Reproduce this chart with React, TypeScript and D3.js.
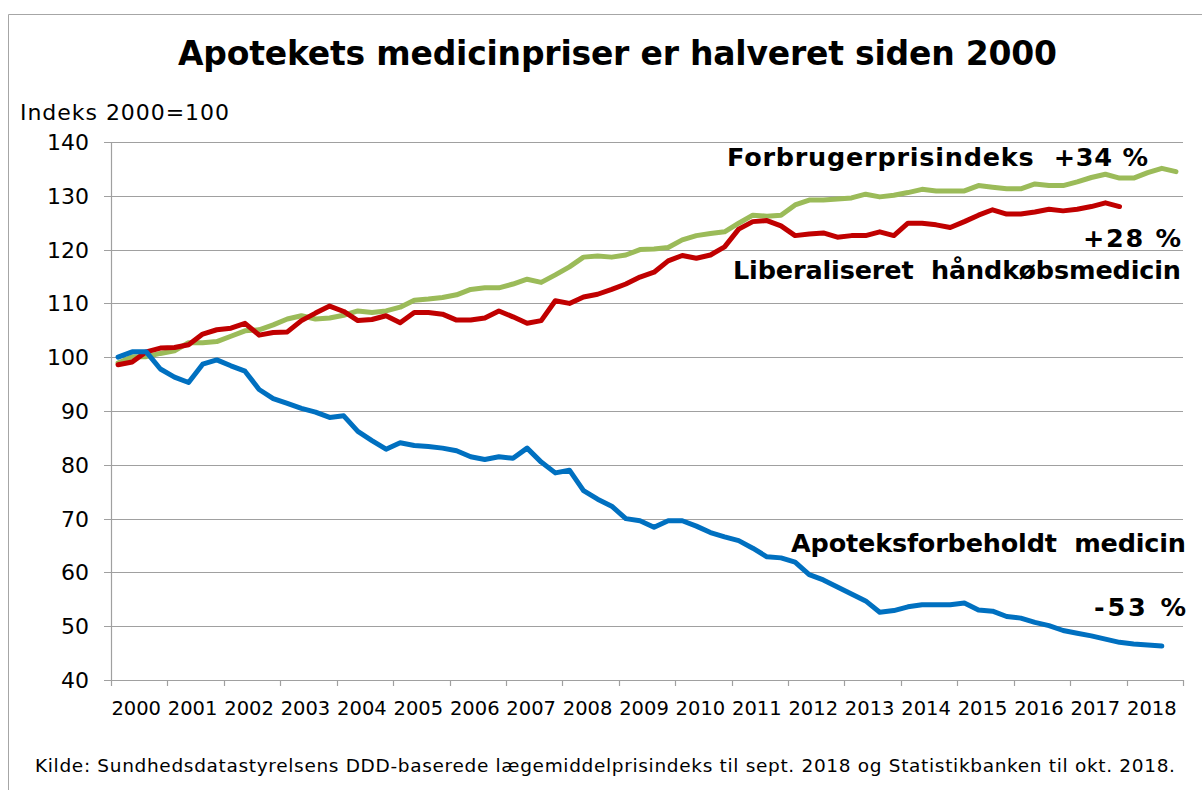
import React, { useEffect, useRef } from 'react'
import { select, scaleLinear, scaleBand, line, range } from 'd3'

// quarterly index values, 2000 Q1 onward (2000 = 100)
const years = range(2000, 2019).map(String)
const quarters = years.flatMap(y => ['K1', 'K2', 'K3', 'K4'].map(q => `${y}${q}`))

const apoteksforbeholdt = [
  100.0, 101.0, 101.0, 97.8, 96.3, 95.3, 98.7, 99.5, 98.4, 97.4,
  94.0, 92.3, 91.4, 90.5, 89.8, 88.8, 89.1, 86.2, 84.5, 82.9,
  84.1, 83.6, 83.4, 83.1, 82.6, 81.5, 81.0, 81.5, 81.2, 83.1,
  80.5, 78.5, 79.0, 75.2, 73.6, 72.3, 70.0, 69.6, 68.4, 69.6,
  69.6, 68.6, 67.4, 66.6, 65.9, 64.5, 62.9, 62.7, 61.9, 59.6,
  58.6, 57.3, 56.0, 54.7, 52.6, 52.9, 53.6, 54.0, 54.0, 54.0,
  54.3, 53.0, 52.8, 51.8, 51.5, 50.7, 50.1, 49.2, 48.7, 48.2,
  47.6, 47.0, 46.7, 46.5, 46.3
]

const haandkoeb = [
  98.6, 99.1, 101.0, 101.7, 101.8, 102.3, 104.3, 105.1, 105.4, 106.3,
  104.1, 104.6, 104.7, 106.8, 108.2, 109.5, 108.5, 106.8, 107.0, 107.7,
  106.4, 108.3, 108.3, 108.0, 106.9, 106.9, 107.3, 108.6, 107.5, 106.3,
  106.8, 110.5, 110.0, 111.2, 111.7, 112.6, 113.6, 114.9, 115.8, 117.9,
  118.9, 118.4, 119.0, 120.5, 123.8, 125.2, 125.4, 124.4, 122.6, 122.9,
  123.1, 122.3, 122.6, 122.6, 123.3, 122.6, 124.9, 124.9, 124.6, 124.1,
  125.2, 126.4, 127.4, 126.6, 126.6, 127.0, 127.5, 127.2, 127.5, 128.0,
  128.7, 128.0
]

const forbrugerpris = [
  98.9, 100.1, 100.1, 100.7, 101.2, 102.7, 102.7, 102.9, 103.9, 104.9,
  105.1, 106.0, 107.1, 107.7, 107.1, 107.3, 107.8, 108.6, 108.3, 108.6,
  109.3, 110.6, 110.8, 111.1, 111.6, 112.6, 112.9, 112.9, 113.6, 114.5,
  113.9, 115.3, 116.8, 118.6, 118.8, 118.6, 119.0, 120.0, 120.1, 120.4,
  121.8, 122.6, 123.0, 123.3, 124.9, 126.4, 126.2, 126.4, 128.3, 129.2,
  129.2, 129.4, 129.6, 130.3, 129.8, 130.1, 130.6, 131.2, 130.9, 130.9,
  130.9, 131.9, 131.6, 131.3, 131.3, 132.2, 131.9, 131.9, 132.6, 133.4,
  134.0, 133.3, 133.3, 134.3, 135.1, 134.5
]

const yTicks = [40, 50, 60, 70, 80, 90, 100, 110, 120, 130, 140]

const series = [
  { key: 'forbrug', values: forbrugerpris, color: '#9BBB59' },
  { key: 'haandkoeb', values: haandkoeb, color: '#C00000' },
  { key: 'apotek', values: apoteksforbeholdt, color: '#0070C0' },
]

const font = '"DejaVu Sans", Verdana, sans-serif'

export default function App() {
  const ref = useRef<SVGSVGElement | null>(null)

  useEffect(() => {
    const svg = select(ref.current)
    svg.selectAll('*').remove()

    const left = 111, right = 1183, top = 142, bottom = 680

    const x = scaleBand<string>().domain(quarters).range([left, right]).padding(0)
    const xYear = scaleBand<string>().domain(years).range([left, right]).padding(0)
    const y = scaleLinear().domain([40, 140]).range([bottom, top])

    // frame
    svg.append('path')
      .attr('d', `M8.5,790 V14.5 H1202`)
      .attr('fill', 'none')
      .attr('stroke', '#a6a6a6')
      .attr('stroke-width', 1)

    // gridlines + y ticks
    svg.append('g').selectAll('line').data(yTicks).join('line')
      .attr('x1', left - 7).attr('x2', right)
      .attr('y1', d => Math.round(y(d)) + 0.5).attr('y2', d => Math.round(y(d)) + 0.5)
      .attr('stroke', '#a0a0a0').attr('stroke-width', 1.2)

    svg.append('g').selectAll('text').data(yTicks).join('text')
      .attr('x', 89).attr('y', d => y(d) + 8)
      .attr('text-anchor', 'end')
      .attr('font-family', font).attr('font-size', 22)
      .text(d => d)

    // y axis line
    svg.append('line')
      .attr('x1', left + 0.5).attr('x2', left + 0.5)
      .attr('y1', top).attr('y2', bottom)
      .attr('stroke', '#a0a0a0').attr('stroke-width', 1.2)

    // x ticks at year boundaries
    const bounds = years.map(yr => xYear(yr) as number).concat([right])
    svg.append('g').selectAll('line').data(bounds).join('line')
      .attr('x1', d => Math.round(d) + 0.5).attr('x2', d => Math.round(d) + 0.5)
      .attr('y1', bottom).attr('y2', bottom + 6)
      .attr('stroke', '#a0a0a0').attr('stroke-width', 1.2)

    svg.append('g').selectAll('text').data(years).join('text')
      .attr('x', d => (xYear(d) as number) + xYear.bandwidth() / 2 - 3)
      .attr('y', bottom + 35)
      .attr('text-anchor', 'middle')
      .attr('font-family', font).attr('font-size', 19.5)
      .text(d => d)

    // lines
    const path = line<number>()
      .x((d, i) => (x(quarters[i]) as number) + x.bandwidth() / 2)
      .y(d => y(d))

    svg.append('g').selectAll('path').data(series).join('path')
      .attr('d', d => path(d.values))
      .attr('fill', 'none')
      .attr('stroke', d => d.color)
      .attr('stroke-width', 5)
      .attr('stroke-linejoin', 'round')
      .attr('stroke-linecap', 'round')

    // title and axis title
    svg.append('text')
      .attr('x', 178).attr('y', 65)
      .attr('font-family', font).attr('font-size', 33).attr('font-weight', 'bold')
      .attr('textLength', 879)
      .text('Apotekets medicinpriser er halveret siden 2000')

    svg.append('text')
      .attr('x', 20).attr('y', 120)
      .attr('font-family', font).attr('font-size', 22)
      .attr('textLength', 209)
      .text('Indeks 2000=100')

    // series labels
    const labels = [
      { text: 'Forbrugerprisindeks  +34 %', x: 727, y: 166, w: 421 },
      { text: '+28 %', x: 1083, y: 247, w: 98 },
      { text: 'Liberaliseret  håndkøbsmedicin', x: 733, y: 279, w: 448 },
      { text: 'Apoteksforbeholdt  medicin', x: 791, y: 552, w: 395 },
      { text: '-53 %', x: 1094, y: 616, w: 92 },
    ]
    svg.append('g').selectAll('text').data(labels).join('text')
      .attr('x', d => d.x).attr('y', d => d.y)
      .attr('textLength', d => d.w)
      .attr('font-family', font).attr('font-size', 25.5).attr('font-weight', 'bold')
      .style('white-space', 'pre')
      .text(d => d.text)

    // source
    svg.append('text')
      .attr('x', 35).attr('y', 772)
      .attr('font-family', font).attr('font-size', 18.5)
      .attr('textLength', 1140)
      .text('Kilde: Sundhedsdatastyrelsens DDD-baserede lægemiddelprisindeks til sept. 2018 og Statistikbanken til okt. 2018.')
  }, [])

  return (
    <svg ref={ref} width={1202} height={790}
      style={{ position: 'absolute', left: 0, top: 0, background: '#fff' }} />
  )
}
